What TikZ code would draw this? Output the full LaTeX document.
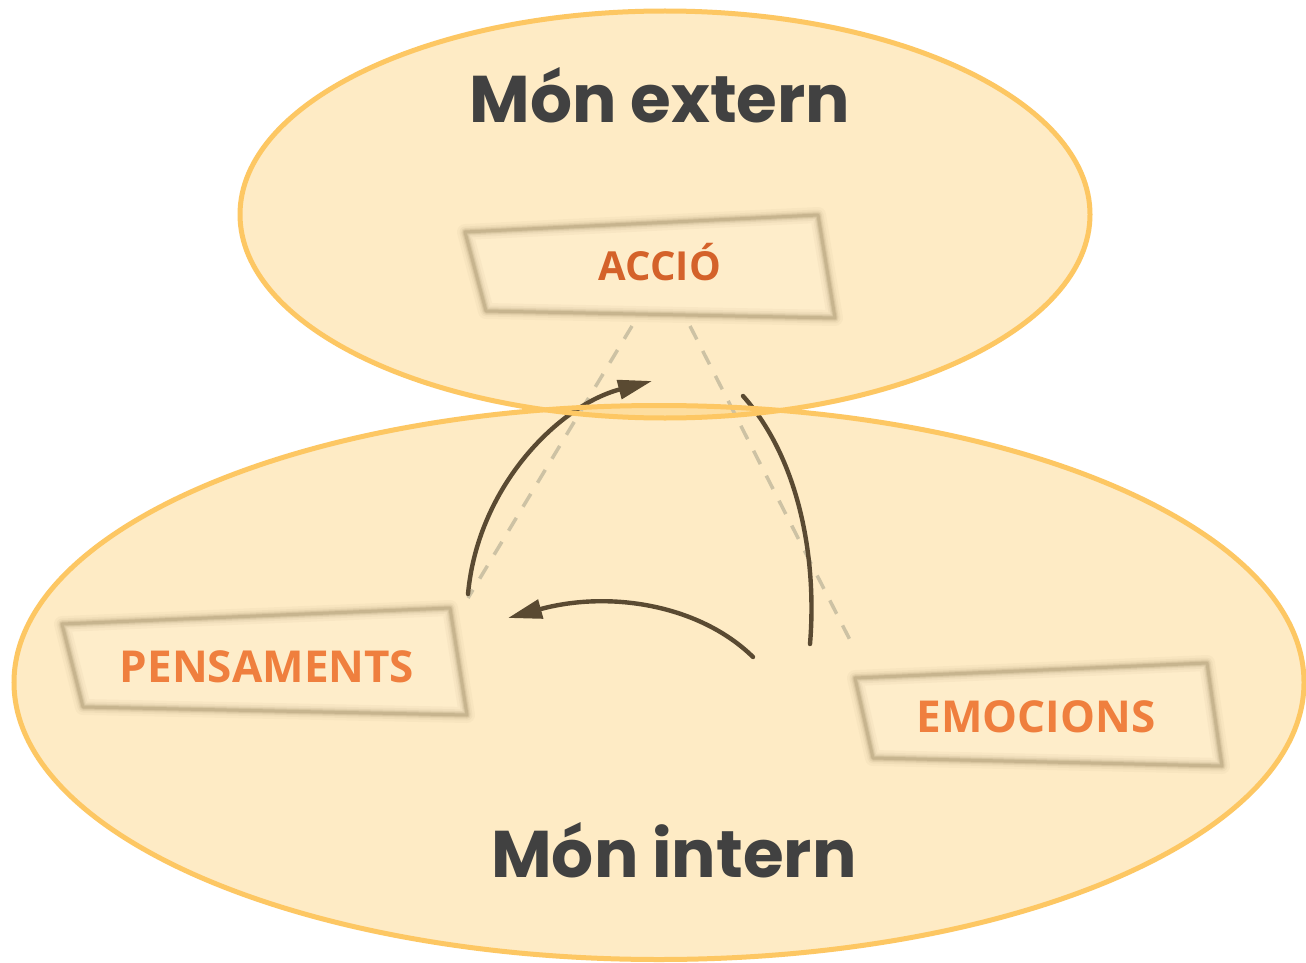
\documentclass[tikz,border=0pt]{standalone}
\usepackage{fontspec}
\setmainfont{Open Sans}
\newfontfamily\titlefont{Poppins}
\usetikzlibrary{arrows.meta}
\definecolor{ellfill}{HTML}{FDC860}
\definecolor{ellline}{HTML}{FDC763}
\definecolor{titlecol}{HTML}{414141}
\definecolor{accol}{HTML}{D4622A}
\definecolor{boxcol}{HTML}{EF7F3E}
\definecolor{arrcol}{HTML}{5A4A32}
\definecolor{dashcol}{HTML}{CDC2A4}
\definecolor{edgecol}{HTML}{9A8660}
\definecolor{boxfill}{HTML}{FEEDCA}
\newcommand{\paperbox}[4]{%
  \fill[boxfill] #1 -- #2 -- #3 -- #4 -- cycle;
  \foreach \w/\o in {16/0.06,11/0.08,7.5/0.12,5/0.18,3/0.25}{%
    \draw[edgecol, line width=\w pt, opacity=\o, line join=round] #1 -- #2 -- #3 -- #4 -- cycle;}%
}
\tikzset{
  title/.style={font=\titlefont\bfseries\fontsize{66}{78}\selectfont, text=titlecol, inner sep=0pt},
  boxlabel/.style={font=\bfseries\fontsize{44}{50}\selectfont, text=boxcol, inner sep=0pt},
  flow/.style={draw=arrcol, line width=4.4pt, line cap=round},
  flowhead/.style={flow, -{Triangle[length=34pt,width=19pt]}},
  guide/.style={draw=dashcol, line width=3.5pt, dash pattern=on 15pt off 13pt},
  ellbg/.style={fill=ellfill, fill opacity=0.36},
  ellrim/.style={draw=ellline, line width=5pt}
}
\begin{document}
\begin{tikzpicture}[x=1pt,y=-1pt]
\useasboundingbox (0,0) rectangle (1306,963);
\fill[white] (0,0) rectangle (1306,963);
% ellipse fills
\path[ellbg] (659,682.5) ellipse [x radius=645, y radius=277];
\path[ellbg] (665,214.5) ellipse [x radius=425, y radius=203.5];
% dashed guides
\coordinate (gA1) at (632,326);
\coordinate (gP) at (468,598);
\coordinate (gA2) at (690,326);
\coordinate (gE) at (850,640);
\draw[guide] (gA1) -- (gP);
\draw[guide] (gA2) -- (gE);
% boxes
\paperbox{(465,232)}{(818,215)}{(835,318)}{(486,311)}
\paperbox{(62,624)}{(450,608)}{(467,715)}{(83,707)}
\paperbox{(855,678)}{(1207,663)}{(1222,766)}{(873,758)}
\node[boxlabel, text=accol, font=\bfseries\fontsize{40}{46}\selectfont] (accio) at (660,262) {ACCIÓ};
\node[boxlabel] (pens) at (267,667) {PENSAMENTS};
\node[boxlabel] (emoc) at (1036,717) {EMOCIONS};
% flow arrows
\coordinate (p1s) at (468,594);
\coordinate (p1e) at (652,381);
\coordinate (p2s) at (743,396);
\coordinate (p2e) at (810,644);
\coordinate (p3s) at (753,657);
\coordinate (p3e) at (508,618);
\draw[flowhead] (p1s) .. controls (478,485) and (560,405) .. (p1e);
\draw[flow] (p2s) .. controls (800,460) and (817,560) .. (p2e);
\draw[flowhead] (p3s) .. controls (700,605) and (610,590) .. (p3e);
% ellipse rims
\draw[ellrim] (659,682.5) ellipse [x radius=645, y radius=277];
\draw[ellrim] (665,214.5) ellipse [x radius=425, y radius=203.5];
% titles
\node[title] (ext) at (660,95) {Món extern};
\node[title] (int) at (674,850) {Món intern};
\end{tikzpicture}
\end{document}
